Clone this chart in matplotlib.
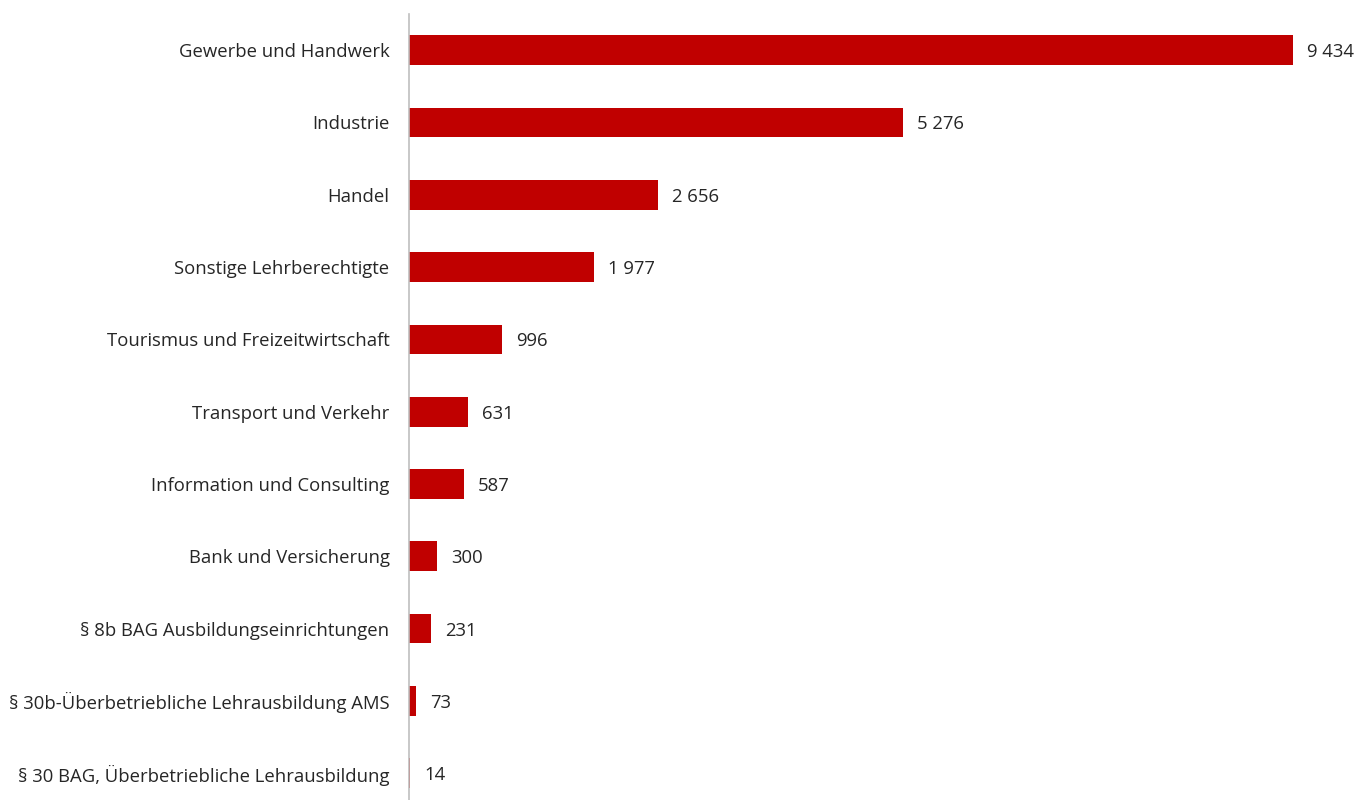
import matplotlib.pyplot as plt

categories = [
    "Gewerbe und Handwerk",
    "Industrie",
    "Handel",
    "Sonstige Lehrberechtigte",
    "Tourismus und Freizeitwirtschaft",
    "Transport und Verkehr",
    "Information und Consulting",
    "Bank und Versicherung",
    "§ 8b BAG Ausbildungseinrichtungen",
    "§ 30b-Überbetriebliche Lehrausbildung AMS",
    "§ 30 BAG, Überbetriebliche Lehrausbildung",
]
values = [9434, 5276, 2656, 1977, 996, 631, 587, 300, 231, 73, 14]

plt.rcParams["font.family"] = ["Open Sans", "DejaVu Sans"]

fig = plt.figure(figsize=(13.71, 8.0), dpi=100)
ax = fig.add_axes([409 / 1371, 0.0, 1 - 409 / 1371, 1 - 14 / 800])

y = list(range(len(categories)))
ax.barh(y, values, height=0.41, color="#C00000")

for yi, v in zip(y, values):
    label = f"{v:,}".replace(",", " ")
    ax.text(v + 150, yi, label, va="center_baseline", ha="left", fontsize=13.3, color="#262626")

ax.set_yticks(y)
ax.set_yticklabels(categories, fontsize=13.3, color="#262626", va="center_baseline")
ax.tick_params(axis="y", length=0, pad=14)
ax.set_xticks([])
ax.set_xlim(0, (1371 - 409) / ((1293 - 409) / 9434))
ax.set_ylim(10.37, -0.5)

for side in ["top", "right", "bottom"]:
    ax.spines[side].set_visible(False)
ax.spines["left"].set_color("#BFBFBF")
ax.spines["left"].set_linewidth(1.2)

fig.savefig("out.png", dpi=100)
